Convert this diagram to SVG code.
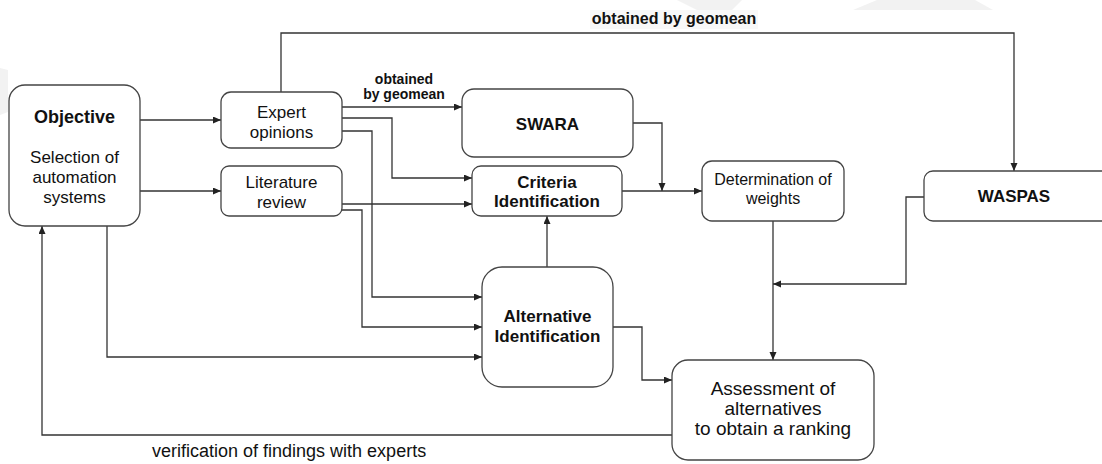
<svg xmlns="http://www.w3.org/2000/svg" width="1102" height="464" viewBox="0 0 1102 464">
<defs>
<marker id="arr" markerUnits="userSpaceOnUse" markerWidth="9" markerHeight="8" refX="8" refY="3.5" orient="auto">
<path d="M0,0 L8,3.5 L0,7 z" fill="#222"/>
</marker>
<style>
.box{fill:#fff;stroke:#444;stroke-width:1.3}
.ln{fill:none;stroke:#333;stroke-width:1.3;marker-end:url(#arr)}
.ln0{fill:none;stroke:#333;stroke-width:1.3}
text{font-family:"Liberation Sans",Arial,sans-serif;fill:#111;text-anchor:middle}
.b{font-weight:bold}
.t17{font-size:17px}
</style>
</defs>
<rect width="1102" height="464" fill="#fff"/>
<g id="watermark" fill="#f2f2f2">
<polygon points="877,0 975,0 993,10 853,10"/>
<polygon points="677,0 742,0 728,14 705,14"/>
<polygon points="0,68 8,70 8,112 0,115"/>
</g>
<g id="connectors">
<path class="ln" d="M140,120 H221"/>
<path class="ln" d="M140,191 H221"/>
<path class="ln" d="M281,92 V33 H1014 V171"/>
<path class="ln" d="M342,107 H462"/>
<path class="ln" d="M342,118 H392 V178 H472"/>
<path class="ln" d="M342,131 H372 V297 H482"/>
<path class="ln" d="M342,204 H472"/>
<path class="ln" d="M342,210 H362 V327 H482"/>
<path class="ln" d="M107,226 V357 H482"/>
<path class="ln" d="M633,123 H662 V191"/>
<path class="ln" d="M622,191 H702"/>
<path class="ln" d="M547,267 V216"/>
<path class="ln" d="M613,327 H642 V380 H672"/>
<path class="ln" d="M773,221 V360"/>
<path class="ln" d="M924,197 H906 V284 H773"/>
<path class="ln" d="M672,435 H42 V226"/>
<rect x="590" y="10" width="168" height="19" fill="#f8f8f8"/>
<text class="b" x="674" y="24" font-size="16">obtained by geomean</text>
<rect x="362" y="70" width="84" height="32" fill="#fff"/>
<text class="b" x="404" y="84" font-size="14">obtained</text>
<text class="b" x="404" y="99" font-size="14">by geomean</text>
<text x="152" y="457" font-size="18" style="text-anchor:start">verification of findings with experts</text>
</g>
<g id="objective">
<rect class="box" x="9" y="85" width="131" height="141" rx="16"/>
<text class="b" x="74.5" y="123" font-size="18">Objective</text>
<text class="t17" x="74.5" y="163">Selection of</text>
<text class="t17" x="74.5" y="183">automation</text>
<text class="t17" x="74.5" y="203">systems</text>
</g>
<g id="expert">
<rect class="box" x="221" y="92" width="121" height="56" rx="10"/>
<text class="t17" x="281.5" y="118">Expert</text>
<text class="t17" x="281.5" y="138">opinions</text>
</g>
<g id="literature">
<rect class="box" x="221" y="166" width="121" height="50" rx="8"/>
<text class="t17" x="281.5" y="188">Literature</text>
<text class="t17" x="281.5" y="208">review</text>
</g>
<g id="swara">
<rect class="box" x="462" y="89" width="171" height="68" rx="12"/>
<text class="b t17" x="547.5" y="130">SWARA</text>
</g>
<g id="criteria">
<rect class="box" x="472" y="166" width="150" height="50" rx="9"/>
<text class="b t17" x="547" y="188">Criteria</text>
<text class="b t17" x="547" y="207">Identification</text>
</g>
<g id="determination">
<rect class="box" x="702" y="161" width="142" height="60" rx="10"/>
<text x="773" y="185" font-size="16">Determination of</text>
<text x="773" y="204" font-size="16">weights</text>
</g>
<g id="waspas">
<rect class="box" x="924" y="171" width="190" height="50" rx="9"/>
<text class="b t17" x="1014" y="202">WASPAS</text>
</g>
<g id="alternative">
<rect class="box" x="482" y="267" width="131" height="120" rx="20"/>
<text class="b t17" x="547.5" y="322">Alternative</text>
<text class="b t17" x="547.5" y="342">Identification</text>
</g>
<g id="assessment">
<rect class="box" x="672" y="360" width="202" height="100" rx="16"/>
<text x="773" y="395" font-size="19">Assessment of</text>
<text x="773" y="415" font-size="19">alternatives</text>
<text x="773" y="435" font-size="19">to obtain a ranking</text>
</g>
</svg>
